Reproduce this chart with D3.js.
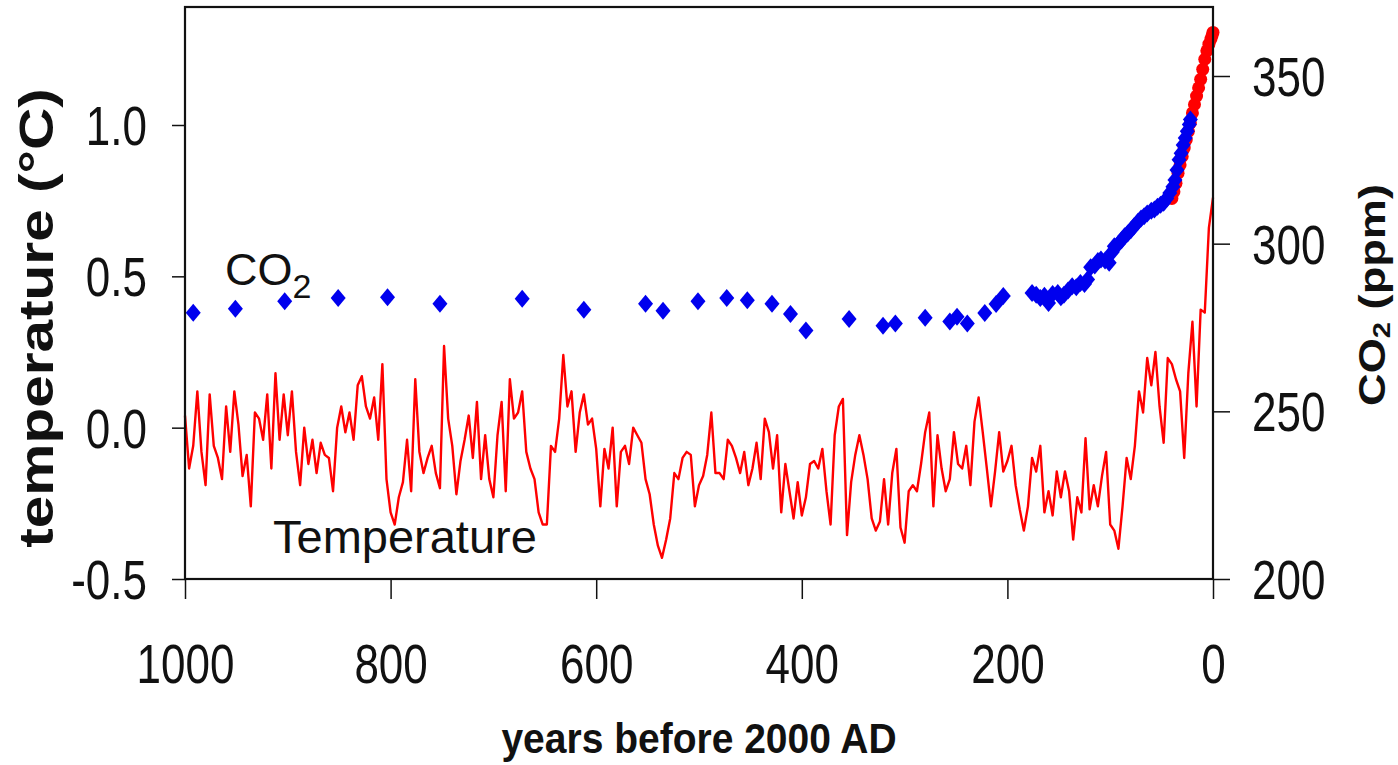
<!DOCTYPE html>
<meta charset="utf-8">
<script src="https://cdn.jsdelivr.net/npm/d3@7"></script>
<style>
  body { margin: 0; background: #fff; }
  text { font-family: "Liberation Sans", Arial, sans-serif; fill: #111; }
</style>
<body>
<script>

var width = 1398
var height = 765

// temperature anomaly, one value every 4 years from 1000 to 0 years before 2000 AD
var tempStartYear = 1000
var tempStep = 4
var tempValues = [
  0.04, -0.135, -0.06, 0.12, -0.08, -0.19, 0.11, -0.06, -0.10, -0.17,
  0.07, -0.08, 0.12, 0.01, -0.16, -0.09, -0.26, 0.05, 0.03, -0.04,
  0.11, -0.135, 0.18, -0.04, 0.11, -0.025, 0.12, -0.08, -0.19, 0.0,
  -0.12, -0.04, -0.15, -0.05, -0.09, -0.10, -0.21, 0.0, 0.07, -0.015,
  0.05, -0.04, 0.14, 0.17, 0.07, 0.03, 0.10, -0.04, 0.21, -0.17,
  -0.28, -0.32, -0.23, -0.18, -0.04, -0.21, 0.16, -0.08, -0.15, -0.10,
  -0.06, -0.15, -0.20, 0.27,
  0.03, -0.06, -0.22, -0.11, -0.04, 0.04,
  -0.10, 0.085, -0.17, -0.025, -0.17, -0.23, -0.025, 0.085, -0.21, 0.16,
  0.03, 0.05, 0.12, -0.08, -0.135, -0.17, -0.28, -0.32, -0.32, -0.06,
  -0.08, 0.03, 0.24, 0.07, 0.12, -0.08, 0.05, 0.11, 0.01, 0.03,
  -0.07, -0.26, -0.07, -0.135, 0.0, -0.26, -0.08, -0.06, -0.12, 0.0,
  -0.025, -0.05, -0.17, -0.22, -0.32, -0.39, -0.43, -0.37, -0.30, -0.15,
  -0.17, -0.10, -0.08, -0.09, -0.26, -0.19,
  -0.16, -0.09, 0.05, -0.15,
  -0.15, -0.17, -0.04, -0.06, -0.10, -0.15, -0.08, -0.19, -0.135, -0.05,
  -0.17, 0.03, -0.015, -0.135, -0.025, -0.28, -0.12, -0.21, -0.30, -0.18,
  -0.29, -0.23, -0.12, -0.11, -0.135, -0.07, -0.21, -0.32, -0.025, 0.07,
  0.095, -0.355, -0.18, -0.09, -0.025, -0.09, -0.17, -0.30, -0.34, -0.31,
  -0.17, -0.32, -0.15, -0.07, -0.33, -0.38, -0.21, -0.19, -0.21, -0.12,
  -0.015, 0.05, -0.26, -0.025, -0.135, -0.21, -0.17, -0.015, -0.12,
  -0.135, -0.06, -0.19, 0.02, 0.10, -0.015, -0.135, -0.26, -0.145, -0.015, -0.145,
  -0.11, -0.06, -0.19, -0.27, -0.34, -0.26, -0.10, -0.145, -0.06, -0.28,
  -0.21, -0.29, -0.145, -0.23, -0.145, -0.21, -0.37, -0.23, -0.28, -0.035,
  -0.27, -0.19, -0.26, -0.16, -0.08, -0.32, -0.34, -0.40, -0.26, -0.10,
  -0.17, -0.06, 0.12, 0.05, 0.23, 0.14, 0.25, 0.07, -0.05, 0.23,
  0.21, 0.16, 0.12, -0.10, 0.18, 0.35, 0.07, 0.39, 0.38, 0.66, 0.76
]

// ice core CO2 (blue diamonds)
var iceYears = [992, 951, 903, 851, 803, 752, 672, 612, 552, 535, 501, 473, 453, 429, 411, 396,
  354, 321, 309, 280, 256, 249, 239, 222, 211, 204,
  176, 172, 168, 164, 160, 156, 151, 148, 145, 141, 137, 133, 129, 125, 122, 119, 115, 112, 109, 105,
  101, 98, 96, 92, 89, 86, 83, 80, 77, 73, 70, 67, 64, 60, 57, 54, 51, 48, 45, 42, 39, 37, 35, 33,
  31, 29, 27, 25, 23, 22]
var iceCO2 = [279.4, 280.6, 282.8, 283.8, 284.0, 282.1, 283.6, 280.3, 282.1, 280.0, 282.8, 283.8, 283.1, 282.1, 279.0, 274.1,
  277.5, 275.5, 276.2, 277.9, 276.8, 278.2, 276.2, 279.3, 282.0, 284.4,
  285.3, 284.8, 283.8, 284.5, 282.3, 285.0, 285.3, 284.0, 284.8, 286.0, 287.3, 287.0, 288.3, 288.0, 289.3, 293.0, 293.5, 294.8, 295.3, 295.0,
  294.3, 297.5, 299.2, 300.0, 301.0, 302.2, 303.0, 304.0, 305.1, 306.5, 307.5, 308.2, 309.0, 309.8, 310.2, 311.0, 311.6, 312.2, 313.5, 315.1, 317.0, 319.0, 322.0, 325.0,
  327.0, 329.4, 331.5, 333.5, 335.5, 337.0]

// atmospheric CO2 measurements (red dots)
var airYears = [40, 38, 36, 34, 32, 30, 28, 26, 24, 22, 20, 18, 16, 14, 12, 10, 8, 6, 4, 2, 1, 0]
var airCO2 = [313.5, 315.5, 318, 321, 323.5, 326, 328.5, 331, 333.5, 336, 339, 341.5, 344, 346.5, 349, 352, 355, 357.5, 359.5, 361, 362, 363]

var yearTicks = [1000, 800, 600, 400, 200, 0]
var tempTicks = [-0.5, 0.0, 0.5, 1.0]
var tempTickLabels = ["-0.5", "0.0", "0.5", "1.0"]
var co2Ticks = [200, 250, 300, 350]

var plotLeft = 185, plotRight = 1213, plotTop = 7, plotBottom = 579

var x = d3.scaleLinear().domain([1000, 0]).range([plotLeft, plotRight])
var yT = d3.scaleLinear().domain([-0.5, 1.0]).range([plotBottom, 125])
var yC = d3.scaleLinear().domain([200, 350]).range([plotBottom, 76])

var svg = d3.select("body").append("svg")
            .attr("width", width)
            .attr("height", height)
            .style("display", "block")

var line = d3.line()
  .x(function(d, i) { return x(tempStartYear - i * tempStep) })
  .y(function(d) { return yT(d) })

svg.append("path")
   .attr("d", line(tempValues))
   .attr("fill", "none")
   .attr("stroke", "#ff0000")
   .attr("stroke-width", 2.4)
   .attr("stroke-linejoin", "round")

svg.append("g").selectAll("circle")
   .data(airYears)
   .join("circle")
   .attr("cx", function(d) { return x(d) })
   .attr("cy", function(d, i) { return yC(airCO2[i]) })
   .attr("r", 6.5)
   .attr("fill", "#ff0000")

var diamond = "M0,-9L7.5,0L0,9L-7.5,0Z"
svg.append("g").selectAll("path")
   .data(iceYears)
   .join("path")
   .attr("transform", function(d, i) { return "translate(" + x(d) + "," + yC(iceCO2[i]) + ")" })
   .attr("d", diamond)
   .attr("fill", "#0000ee")

// frame
svg.append("rect")
   .attr("x", plotLeft).attr("y", plotTop)
   .attr("width", plotRight - plotLeft).attr("height", plotBottom - plotTop)
   .attr("fill", "none")
   .attr("stroke", "#111")
   .attr("stroke-width", 2.2)

function styleTicks(g) {
  g.select(".domain").remove()
  g.selectAll("line").attr("stroke", "#111").attr("stroke-width", 1.5)
  g.selectAll("text").attr("font-size", 44).attr("font-family", '"Liberation Sans", Arial, sans-serif').attr("fill", "#111")
}

svg.append("g")
   .attr("transform", "translate(" + plotLeft + ",0)")
   .call(d3.axisLeft(yT).tickValues(tempTicks).tickSize(13).tickFormat(function(d, i) { return tempTickLabels[i] }))
   .call(styleTicks)
   .call(function(g) { g.selectAll("text").attr("x", -38).attr("dy", "0.35em").attr("transform", "scale(1,1.27)") })

svg.append("g")
   .attr("transform", "translate(" + plotRight + ",0)")
   .call(d3.axisRight(yC).tickValues(co2Ticks).tickSize(17))
   .call(styleTicks)
   .call(function(g) { g.selectAll("text").attr("x", 39).attr("dy", "0.35em").attr("transform", "scale(1,1.27)") })

svg.append("g")
   .attr("transform", "translate(0," + plotBottom + ")")
   .call(d3.axisBottom(x).tickValues(yearTicks).tickSize(20).tickFormat(d3.format("d")))
   .call(styleTicks)
   .call(function(g) { g.selectAll("text").attr("y", 0).attr("dy", "0.35em").attr("transform", "translate(0,84) scale(1,1.27)") })

// series labels
var co2Label = svg.append("text")
   .attr("x", 225).attr("y", 285)
   .attr("font-size", 45)
co2Label.append("tspan").text("CO")
co2Label.append("tspan").attr("font-size", 34).attr("dy", 13).text("2")

svg.append("text")
   .attr("x", 273).attr("y", 553)
   .attr("font-size", 47)
   .text("Temperature")

// axis titles
svg.append("text")
   .attr("transform", "translate(699,753) scale(1,1.08)")
   .attr("text-anchor", "middle")
   .attr("font-weight", "bold")
   .attr("font-size", 39)
   .text("years before 2000 AD")

svg.append("text")
   .attr("transform", "translate(53,318) rotate(-90) scale(1.22,1)")
   .attr("text-anchor", "middle")
   .attr("font-weight", "bold")
   .attr("font-size", 48)
   .text("temperature (\u00b0C)")

var rightTitle = svg.append("text")
   .attr("transform", "translate(1385,295) rotate(-90) scale(1.22,1)")
   .attr("text-anchor", "middle")
   .attr("font-weight", "bold")
   .attr("font-size", 37)
rightTitle.append("tspan").text("CO")
rightTitle.append("tspan").attr("font-size", 24).attr("dy", 5).text("2")
rightTitle.append("tspan").attr("dy", -5).text(" (ppm)")

</script>
</body>
